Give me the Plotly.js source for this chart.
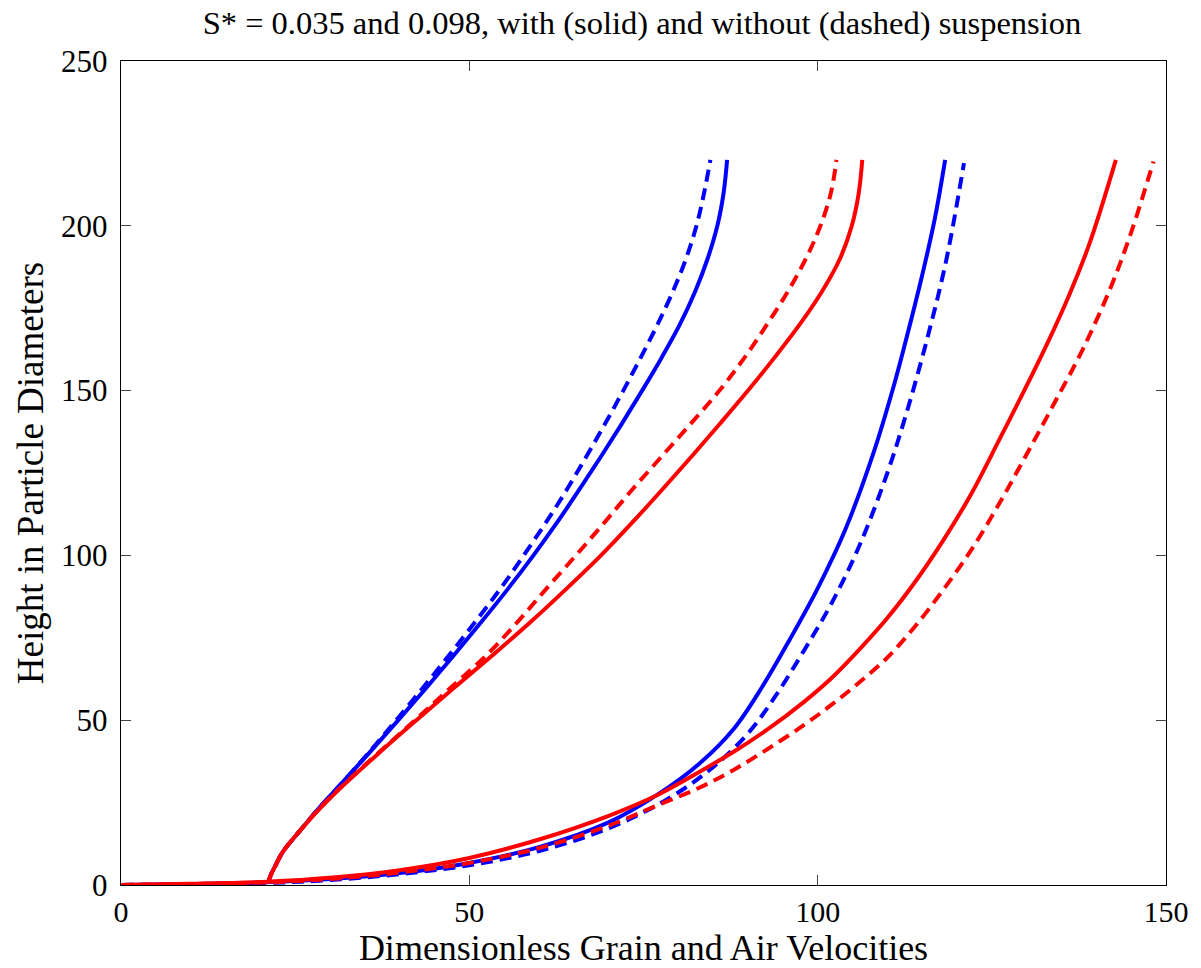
<!DOCTYPE html>
<html>
<head>
<meta charset="utf-8">
<script src="https://cdn.plot.ly/plotly-3.0.1.min.js"></script>
<style>html,body{margin:0;padding:0;background:#fff;} #chart{width:1201px;height:968px;}</style>
</head>
<body>
<div id="chart"></div>
<script>
// Upper group (steep curves starting near x = 21): velocity (x) read at heights (y)
const grainHeights = [0.5, 3, 6, 10, 16.5, 23.3, 30, 40, 50, 60, 70, 80, 90, 100, 110, 120, 130, 140, 150, 160, 170, 180, 190, 200, 210, 220];
const grainBlueSolidX = [21.1, 21.5, 22.2, 23.2, 25.7, 28.4, 31.3, 35.6, 39.8, 43.9, 47.9, 51.8, 55.6, 59.2, 62.6, 65.8, 68.9, 71.9, 74.8, 77.6, 80.2, 82.4, 84.2, 85.6, 86.5, 87.0];
const grainBlueDashX  = [21.1, 21.5, 22.2, 23.2, 25.7, 28.4, 31.3, 35.5, 39.5, 43.4, 47.2, 50.9, 54.5, 57.8, 61.0, 64.0, 66.8, 69.5, 72.1, 74.6, 77.0, 79.2, 81.1, 82.6, 83.7, 84.6];
const grainRedSolidX  = [21.1, 21.5, 22.2, 23.2, 25.7, 28.6, 31.8, 37.0, 42.4, 47.9, 53.5, 58.9, 64.0, 68.9, 73.4, 77.7, 81.9, 86.0, 90.0, 93.8, 97.4, 100.6, 103.2, 104.9, 105.9, 106.4];
const grainRedDashX   = [21.1, 21.5, 22.2, 23.2, 25.7, 28.5, 31.7, 36.9, 42.2, 47.4, 52.6, 57.0, 61.1, 65.3, 69.4, 73.4, 77.6, 81.8, 85.9, 89.5, 92.7, 95.7, 98.3, 100.4, 101.9, 102.7];

// Lower group (curves starting at x = 0)
const airBlueSolidX = [0, 10, 21, 30, 40, 50, 60, 70, 77, 83, 88, 92, 96, 100, 104, 108, 111, 113, 115, 116.8, 118.3];
const airBlueSolidY = [0, 0.3, 0.8, 1.8, 3.6, 6.7, 11.5, 19, 27.4, 36.8, 47.5, 60, 74.5, 90, 108, 131, 152, 168, 185, 202, 220];
const airBlueDashX  = [0, 10, 21, 30, 40, 50, 60, 70, 78, 84.5, 90, 94, 98, 102, 106, 110, 113, 116, 118.5, 121];
const airBlueDashY  = [0, 0.25, 0.6, 1.5, 3.3, 6.0, 10.3, 17.2, 25.5, 34.9, 46, 57.5, 71, 85.5, 103, 125, 145, 168, 190, 219];
const airRedSolidX  = [0, 10, 21, 30, 40, 50, 60, 70, 77, 83, 88, 93, 98, 102, 106, 110, 114, 118, 122, 126, 130, 133, 136, 139, 142.8];
const airRedSolidY  = [0, 0.35, 1, 2.2, 4.5, 8.2, 13.8, 21, 27.3, 34.3, 40.5, 47.5, 55.5, 62.8, 71.5, 81, 92, 104.5, 118.5, 134.8, 151.5, 164.5, 178.5, 194.5, 220];
const airRedDashX   = [0, 10, 21, 30, 40, 50, 60, 70, 77, 83, 88, 93, 98, 102, 106, 110, 114, 118, 122, 126, 130, 134, 138, 142, 145, 148.2];
const airRedDashY   = [0, 0.3, 0.8, 1.8, 3.8, 6.7, 11.2, 18, 24.2, 29.5, 35, 41.5, 48.5, 54.7, 61.5, 69, 78.5, 89.5, 101.5, 115.5, 130.7, 146.3, 162.3, 181, 198, 219.5];

const xTicks = [0, 50, 100, 150];
const yTicks = [0, 50, 100, 150, 200, 250];

const BLUE = '#0000ff', RED = '#ff0000';
const SOLID_W = 4, DASH_W = 4, DASH = '12px,7px';

function tr(x, y, color, dash) {
  return {
    x: x, y: y, type: 'scatter', mode: 'lines', hoverinfo: 'skip', showlegend: false,
    line: {color: color, width: dash ? DASH_W : SOLID_W, dash: dash ? DASH : 'solid', shape: 'spline', smoothing: 1}
  };
}

const data = [
  tr(grainBlueDashX, grainHeights, BLUE, true),
  tr(grainBlueSolidX, grainHeights, BLUE, false),
  tr(airBlueDashX, airBlueDashY, BLUE, true),
  tr(airBlueSolidX, airBlueSolidY, BLUE, false),
  tr(grainRedDashX, grainHeights, RED, true),
  tr(grainRedSolidX, grainHeights, RED, false),
  tr(airRedDashX, airRedDashY, RED, true),
  tr(airRedSolidX, airRedSolidY, RED, false)
];

const FONT = 'Liberation Serif, Times New Roman, serif';

const axisCommon = {
  showline: true, linecolor: '#000', linewidth: 1.3, mirror: 'ticks',
  ticks: 'inside', ticklen: 10, tickwidth: 1, tickcolor: '#444',
  showgrid: false, zeroline: false,
  tickfont: {family: FONT, size: 31, color: '#000'}
};

const layout = {
  width: 1201, height: 968,
  margin: {l: 121, r: 35, t: 61, b: 83},
  paper_bgcolor: '#fff', plot_bgcolor: '#fff',
  title: {
    text: 'S* = 0.035 and 0.098, with (solid) and without (dashed) suspension',
    font: {family: FONT, size: 32.5, color: '#000'},
    x: 642/1201, xref: 'container', xanchor: 'center', y: 1 - 23/968, yref: 'container', yanchor: 'middle'
  },
  xaxis: Object.assign({}, axisCommon, {
    range: [0, 150], tickvals: xTicks, ticktext: xTicks.map(String), ticklabelstandoff: 0,
    tickfont: {family: FONT, size: 30, color: '#000'},
    title: {text: 'Dimensionless Grain and Air Velocities', font: {family: FONT, size: 36, color: '#000'}, standoff: 6}
  }),
  yaxis: Object.assign({}, axisCommon, {
    range: [0, 250], tickvals: yTicks, ticktext: yTicks.map(String), ticklabelstandoff: 6,
    title: {text: 'Height in Particle Diameters', font: {family: FONT, size: 37, color: '#000'}, standoff: 6}
  })
};

Plotly.newPlot('chart', data, layout, {staticPlot: true, displayModeBar: false});
</script>
</body>
</html>
